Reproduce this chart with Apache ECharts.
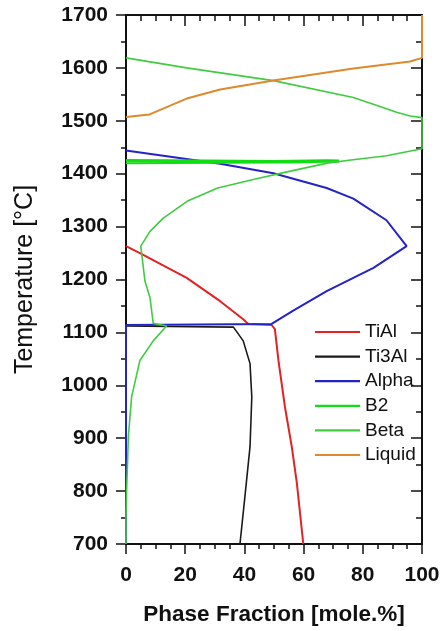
<!DOCTYPE html>
<html><head><meta charset="utf-8">
<script src="https://cdn.jsdelivr.net/npm/echarts@6/dist/echarts.min.js"></script>
<style>html,body{margin:0;padding:0;background:#fff}#c{width:443px;height:631px}</style>
</head><body><div id="c"></div>
<script>
// Axis ticks
const xTicks = [0, 20, 40, 60, 80, 100];
const yTicks = [700, 800, 900, 1000, 1100, 1200, 1300, 1400, 1500, 1600, 1700];
const seriesNames = ['TiAl', 'Ti3Al', 'Alpha', 'B2', 'Beta', 'Liquid'];

// [phase fraction (mole %), temperature (°C)]
const tiAl = [[0,1263],[4.7,1250],[20.5,1203],[31.8,1159],[39.6,1125],[41.3,1116],[49.2,1114],[50.3,1106],[51.5,1047],[53.7,959],[56,884],[57.7,816],[59.9,700]];
const ti3Al = [[0,1112],[36.3,1110],[39.6,1084],[41.9,1041],[42.5,978],[41.9,884],[40.2,791],[38.5,700]];
const alpha = [[0,1444],[31.8,1419],[49.8,1401],[67.8,1373],[76.8,1353],[88,1312],[94.8,1263],[83.6,1222],[67.8,1178],[56.5,1141],[49.2,1116],[0,1114],[0,700]];
const b2 = [[0,1425],[15,1424.5],[50,1423],[68,1424.5],[72,1424],[55,1422],[50,1422],[15,1421],[0,1420.5]];
const beta = [[0,1619],[20.5,1600],[49.8,1576],[76.8,1544],[85.8,1527],[91.4,1516],[96,1509],[100,1506],[100,1447],[88,1434],[76,1426],[68,1420],[54,1403],[43,1389],[31,1373],[21,1349],[12.6,1316],[8.1,1291],[5,1263],[6.4,1197],[8.1,1166],[9.2,1117],[13.7,1112],[9.2,1084],[4.7,1047],[1.9,978],[0.8,903],[0.5,850],[0.2,800],[0,750],[0,700]];
const liquid = [[0,1507],[8,1512],[20.5,1542],[31.8,1559],[49.8,1576],[76.8,1599],[96,1612],[100,1619],[100,1700]];

const colors = ['#e32222', '#1a1a1a', '#2323c8', '#12dd12', '#40cc40', '#dc8a2c'];
const widths = [2, 1.6, 2, 3, 1.6, 2];
const datas = [tiAl, ti3Al, alpha, b2, beta, liquid];

const FONT = 'Liberation Sans, Arial, sans-serif';
const chart = echarts.init(document.getElementById('c'), null, {renderer: 'canvas'});

function axisCommon(min, max, interval, minorSplit) {
  return {
    type: 'value', min: min, max: max, interval: interval,
    axisLine: {show: true, onZero: false, lineStyle: {color: '#111', width: 2}},
    splitLine: {show: false},
    minorTick: {show: true, splitNumber: minorSplit, length: 5, lineStyle: {color: '#111', width: 1.5}},
    axisTick: {show: true, length: 10, lineStyle: {color: '#111', width: 1.5}}
  };
}

const option = {
  animation: false,
  backgroundColor: '#fff',
  grid: {left: 126, right: 21, top: 15, bottom: 83},
  legend: {
    orient: 'vertical', left: 310, top: 317.5, selectedMode: false,
    itemWidth: 45, itemHeight: 2.2, itemGap: 5.6,
    data: seriesNames.map(n => ({name: n, icon: 'rect'})),
    textStyle: {fontFamily: FONT, fontSize: 19, color: '#111'}
  },
  xAxis: [
    Object.assign(axisCommon(xTicks[0], xTicks[xTicks.length-1], xTicks[1]-xTicks[0], 4), {
      position: 'bottom',
      name: 'Phase Fraction [mole.%]', nameLocation: 'middle', nameGap: 59,
      nameTextStyle: {fontFamily: FONT, fontSize: 22.5, fontWeight: 'bold', color: '#111'},
      axisLabel: {fontFamily: FONT, fontSize: 21, fontWeight: 'bold', color: '#111', margin: 21}
    }),
    Object.assign(axisCommon(xTicks[0], xTicks[xTicks.length-1], xTicks[1]-xTicks[0], 4), {
      position: 'top', axisLabel: {show: false},
      axisTick: {show: true, inside: true, length: 11, lineStyle: {color: '#111', width: 1.5}},
      minorTick: {show: true, inside: true, splitNumber: 4, length: 6, lineStyle: {color: '#111', width: 1.5}}
    })
  ],
  yAxis: [
    Object.assign(axisCommon(yTicks[0], yTicks[yTicks.length-1], yTicks[1]-yTicks[0], 2), {
      position: 'left',
      name: 'Temperature [°C]', nameLocation: 'middle', nameGap: 88, nameRotate: 90,
      nameTextStyle: {fontFamily: FONT, fontSize: 25, color: '#111'},
      axisLabel: {fontFamily: FONT, fontSize: 21, fontWeight: 'bold', color: '#111', margin: 18,
                  formatter: v => String(v)}
    }),
    Object.assign(axisCommon(yTicks[0], yTicks[yTicks.length-1], yTicks[1]-yTicks[0], 2), {
      position: 'right', axisLabel: {show: false},
      axisTick: {show: true, inside: true, length: 11, lineStyle: {color: '#111', width: 1.5}},
      minorTick: {show: true, inside: true, splitNumber: 2, length: 6, lineStyle: {color: '#111', width: 1.5}}
    })
  ],
  series: seriesNames.map((n, i) => ({
    name: n, type: 'line', data: datas[i], symbol: 'none', showSymbol: false,
    xAxisIndex: 0, yAxisIndex: 0,
    lineStyle: {color: colors[i], width: widths[i]},
    itemStyle: {color: colors[i]},
    smooth: false, clip: true
  }))
};
chart.setOption(option);
</script>
</body></html>
